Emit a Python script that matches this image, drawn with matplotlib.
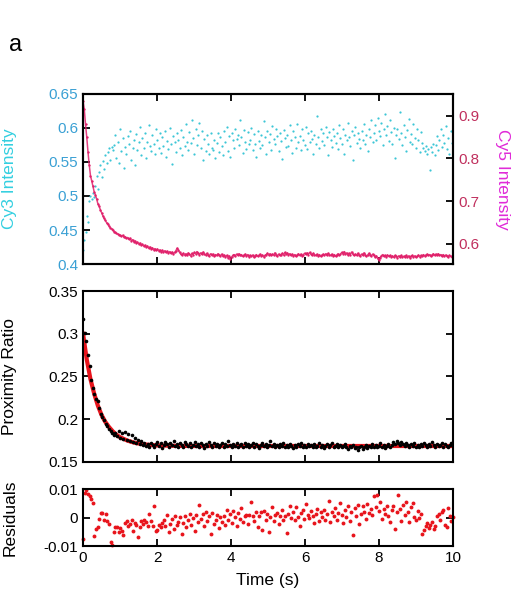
import numpy as np
import matplotlib
matplotlib.use("Agg")
import matplotlib.pyplot as plt
from matplotlib.ticker import FormatStrFormatter, FuncFormatter

plt.rcParams['font.family'] = ['Liberation Sans', 'DejaVu Sans']

# Cy3 intensity (left axis, top panel)
cy3 = [0.420, 0.435, 0.447, 0.470, 0.462, 0.492, 0.500, 0.495, 0.505, 0.498,
       0.515, 0.530, 0.510, 0.535, 0.545, 0.528, 0.552, 0.540, 0.560, 0.548,
       0.565, 0.570, 0.553, 0.572, 0.568,
       0.575, 0.590, 0.556, 0.580, 0.548, 0.598, 0.566, 0.585, 0.541, 0.572,
       0.562, 0.588, 0.577, 0.596, 0.553, 0.570, 0.583, 0.545, 0.591, 0.568,
       0.579, 0.602, 0.560, 0.585, 0.571, 0.593, 0.556, 0.580, 0.604, 0.574,
       0.566, 0.589, 0.577, 0.561, 0.598, 0.582, 0.570, 0.592, 0.563, 0.586,
       0.574, 0.595, 0.558, 0.581, 0.569, 0.600, 0.576, 0.547, 0.588, 0.579,
       0.565, 0.592, 0.583, 0.571, 0.597, 0.560, 0.586, 0.574, 0.606, 0.580,
       0.568, 0.594, 0.578, 0.612, 0.585, 0.562, 0.599, 0.575, 0.589, 0.608,
       0.571, 0.596, 0.553, 0.584, 0.566, 0.590, 0.576, 0.561, 0.593, 0.570,
       0.568, 0.583, 0.556, 0.578, 0.592, 0.565, 0.587, 0.574, 0.560, 0.595,
       0.579, 0.601, 0.566, 0.588, 0.557, 0.593, 0.582, 0.571, 0.598, 0.584,
       0.590, 0.575, 0.612, 0.586, 0.563, 0.597, 0.580, 0.569, 0.594, 0.577,
       0.583, 0.600, 0.568, 0.591, 0.576, 0.558, 0.595, 0.581, 0.570, 0.589,
       0.575, 0.610, 0.586, 0.562, 0.596, 0.579, 0.591, 0.568, 0.603, 0.584,
       0.577, 0.599, 0.588, 0.566, 0.593, 0.581, 0.554, 0.597, 0.585, 0.572,
       0.590, 0.574, 0.604, 0.582, 0.563, 0.595, 0.586, 0.571, 0.606, 0.579,
       0.588, 0.567, 0.598, 0.583, 0.575, 0.601, 0.569, 0.592, 0.580, 0.596,
       0.584, 0.562, 0.590, 0.577, 0.617, 0.586, 0.570, 0.598, 0.581, 0.593,
       0.575, 0.602, 0.587, 0.560, 0.594, 0.583, 0.572, 0.599, 0.588, 0.578,
       0.592, 0.569, 0.604, 0.585, 0.576, 0.598, 0.561, 0.590, 0.582, 0.607,
       0.587, 0.574, 0.596, 0.553, 0.589, 0.601, 0.578, 0.593, 0.584, 0.571,
       0.595, 0.583, 0.606, 0.577, 0.590, 0.566, 0.599, 0.586, 0.611, 0.580,
       0.593, 0.604, 0.582, 0.615, 0.596, 0.588, 0.607, 0.575, 0.599, 0.620,
       0.590, 0.603, 0.581, 0.612, 0.594, 0.576, 0.600, 0.556, 0.589, 0.598,
       0.584, 0.624, 0.592, 0.575, 0.605, 0.587, 0.566, 0.597, 0.613, 0.580,
       0.591, 0.576, 0.606, 0.585, 0.571, 0.598, 0.582, 0.565, 0.594, 0.578,
       0.570, 0.566, 0.574, 0.562, 0.569, 0.538, 0.572, 0.565, 0.577, 0.560,
       0.575, 0.588, 0.568, 0.582, 0.598, 0.572, 0.590, 0.578, 0.603, 0.569,
       0.585, 0.562, 0.596, 0.578, 0.574]

# Cy5 intensity (right axis, top panel)
cy5 = [0.935, 0.915, 0.880, 0.850, 0.815, 0.785, 0.760, 0.748, 0.735, 0.722,
       0.715, 0.705, 0.694, 0.688, 0.680, 0.673, 0.666, 0.660, 0.655, 0.650,
       0.646, 0.642, 0.638, 0.636, 0.632, 0.629, 0.627, 0.625, 0.623, 0.622,
       0.620, 0.618, 0.620, 0.616, 0.617, 0.614, 0.615, 0.611, 0.613, 0.608,
       0.610, 0.605, 0.607, 0.602, 0.604, 0.600, 0.602, 0.597, 0.599, 0.595,
       0.597, 0.593, 0.595, 0.590, 0.593, 0.589, 0.591, 0.586, 0.589, 0.585,
       0.588, 0.584, 0.586, 0.582, 0.585, 0.581, 0.584, 0.580, 0.583, 0.579,
       0.582, 0.578, 0.581, 0.577, 0.580, 0.584, 0.590, 0.586, 0.580, 0.576,
       0.575, 0.578, 0.574, 0.577, 0.573, 0.579, 0.576, 0.572, 0.578, 0.575,
       0.580, 0.577, 0.582, 0.578, 0.575, 0.579, 0.576, 0.581, 0.577, 0.574,
       0.578, 0.575, 0.572, 0.577, 0.574, 0.576, 0.571, 0.575, 0.573, 0.577,
       0.574, 0.572, 0.576, 0.571, 0.574, 0.570, 0.573, 0.568, 0.572, 0.565,
       0.569, 0.573, 0.575, 0.572, 0.576, 0.574, 0.577, 0.573, 0.575, 0.571,
       0.574, 0.576, 0.572, 0.575, 0.570, 0.573, 0.571, 0.574, 0.569, 0.572,
       0.575, 0.571, 0.573, 0.576, 0.572, 0.574, 0.570, 0.573, 0.575, 0.578,
       0.574, 0.577, 0.573, 0.576, 0.574, 0.579, 0.575, 0.572, 0.576, 0.573,
       0.575, 0.578, 0.574, 0.580, 0.576, 0.579, 0.575, 0.577, 0.573, 0.576,
       0.572, 0.575, 0.571, 0.574, 0.577, 0.573, 0.576, 0.572, 0.575, 0.578,
       0.576, 0.579, 0.575, 0.580, 0.577, 0.574, 0.578, 0.575, 0.573, 0.576,
       0.572, 0.575, 0.571, 0.574, 0.576, 0.573, 0.577, 0.574, 0.578, 0.575,
       0.573, 0.576, 0.572, 0.575, 0.571, 0.574, 0.577, 0.573, 0.576, 0.580,
       0.577, 0.582, 0.576, 0.579, 0.574, 0.578, 0.575, 0.581, 0.577, 0.573,
       0.576, 0.573, 0.578, 0.575, 0.572, 0.576, 0.574, 0.579, 0.575, 0.571,
       0.574, 0.578, 0.575, 0.572, 0.576, 0.573, 0.569, 0.572, 0.566, 0.562,
       0.568, 0.572, 0.575, 0.571, 0.573, 0.570, 0.574, 0.571, 0.573, 0.570,
       0.572, 0.569, 0.573, 0.571, 0.568, 0.572, 0.570, 0.573, 0.569, 0.571,
       0.570, 0.573, 0.569, 0.572, 0.568, 0.571, 0.573, 0.570, 0.572, 0.569,
       0.571, 0.574, 0.570, 0.573, 0.571, 0.575, 0.572, 0.574, 0.576, 0.573,
       0.575, 0.572, 0.574, 0.577, 0.573, 0.576, 0.574, 0.577, 0.573, 0.575,
       0.572, 0.575, 0.571, 0.574, 0.572, 0.570, 0.573, 0.571, 0.569, 0.572]

# proximity ratio (middle panel)
ratio = [0.317, 0.301, 0.291, 0.275, 0.262, 0.246, 0.237, 0.229, 0.224, 0.221,
         0.213, 0.206, 0.203, 0.199, 0.195, 0.192, 0.189, 0.186, 0.184, 0.182,
         0.184, 0.180, 0.186, 0.178, 0.184, 0.177, 0.185, 0.176, 0.183, 0.175,
         0.182, 0.173, 0.178, 0.172, 0.176, 0.171, 0.174, 0.170, 0.172, 0.169,
         0.171,
         0.168, 0.172, 0.170, 0.167, 0.171, 0.173, 0.169, 0.172, 0.166, 0.170,
         0.173, 0.171, 0.168, 0.172, 0.170, 0.174, 0.169, 0.171, 0.167, 0.172,
         0.170, 0.168, 0.173, 0.171, 0.169, 0.172, 0.167, 0.170, 0.173, 0.169,
         0.171, 0.168, 0.172, 0.170, 0.166, 0.171, 0.169, 0.173, 0.170, 0.168,
         0.172, 0.169, 0.171, 0.167, 0.170, 0.172, 0.168, 0.171, 0.169, 0.174,
         0.170, 0.168, 0.171, 0.169, 0.172, 0.167, 0.170, 0.171, 0.168, 0.172,
         0.169, 0.171, 0.167, 0.170, 0.172, 0.168, 0.171, 0.169, 0.166, 0.170,
         0.172, 0.169, 0.171, 0.168, 0.170, 0.175, 0.169, 0.171, 0.167, 0.170,
         0.168, 0.171, 0.169, 0.172, 0.167, 0.170, 0.168, 0.171, 0.169, 0.166,
         0.170, 0.168, 0.171, 0.169, 0.172, 0.168, 0.170, 0.167, 0.171, 0.169,
         0.170, 0.168, 0.171, 0.167, 0.169, 0.172, 0.168, 0.170, 0.166, 0.169,
         0.171, 0.168, 0.170, 0.172, 0.167, 0.169, 0.171, 0.168, 0.170, 0.167,
         0.169, 0.171, 0.168, 0.165, 0.169, 0.167, 0.170, 0.166, 0.168, 0.164,
         0.167, 0.169, 0.165, 0.168, 0.170, 0.166, 0.169, 0.167, 0.171, 0.168,
         0.170, 0.167, 0.169, 0.172, 0.168, 0.170, 0.166, 0.169, 0.171, 0.168,
         0.170, 0.173, 0.171, 0.174, 0.172, 0.170, 0.173, 0.171, 0.169, 0.172,
         0.170, 0.168, 0.171, 0.169, 0.172, 0.168, 0.170, 0.167, 0.171, 0.169,
         0.172, 0.170, 0.168, 0.171, 0.169, 0.173, 0.170, 0.168, 0.171, 0.169,
         0.170, 0.172, 0.168, 0.171, 0.169, 0.167, 0.170, 0.172, 0.169]

# exponential fit curve
fit_t = [0, 0.1, 0.2, 0.3, 0.4, 0.5, 0.6, 0.7, 0.8, 0.9, 1.0, 1.2, 1.4, 1.6, 1.8, 2.0, 2.5, 3.0, 10.0]
fit_y = [0.300, 0.270, 0.247, 0.230, 0.216, 0.205, 0.197, 0.191, 0.186, 0.182,
         0.179, 0.175, 0.1724, 0.1709, 0.1700, 0.1694, 0.1689, 0.1687, 0.1687]

# residuals (bottom panel)
resid = [-0.0074, 0.0086, 0.0098, 0.0082, 0.0075, 0.0066, 0.0052, -0.0064, -0.0040, -0.0034,
         -0.0004, 0.0015, 0.0017, -0.0010, 0.0012, -0.0013, -0.0021, -0.0087, -0.0095, -0.0050,
         -0.0033, -0.0035, -0.0052, -0.0038, -0.0046, -0.0062, -0.0019, -0.0012, -0.0030, -0.0024,
         -0.0010, -0.0048, -0.0018, -0.0026, -0.0067, -0.0035, -0.0011, -0.0022, -0.0008, -0.0014,
         -0.0029, 0.0014, -0.0012, -0.0030, 0.0040, -0.0048, -0.0043, -0.0026, -0.0034, -0.0018,
         -0.0009, -0.0031, 0.0008, -0.0052, -0.0022, -0.0004, -0.0040, 0.0006, -0.0027, -0.0014,
         0.0003, -0.0058, -0.0019, 0.0005, -0.0033, -0.0008, 0.0012, -0.0025, -0.0002, -0.0049,
         0.0009, -0.0016, 0.0044, -0.0006, 0.0013, -0.0030, 0.0020, -0.0011, 0.0007, -0.0058,
         0.0016, -0.0022, -0.0008, 0.0010, -0.0037, 0.0003, -0.0014, 0.0005, -0.0025, 0.0028,
         -0.0009, 0.0012, -0.0018, 0.0024, 0.0002, -0.0030, 0.0016, -0.0005, 0.0033, -0.0015,
         0.0006, 0.0008, -0.0021, 0.0010, 0.0055, 0.0004, -0.0012, 0.0021, -0.0032, 0.0007,
         0.0019, -0.0044, 0.0024, -0.0007, 0.0011, -0.0050, 0.0003, 0.0036, -0.0013, 0.0008,
         0.0015, -0.0024, 0.0004, 0.0028, -0.0010, 0.0006, -0.0056, 0.0013, 0.0040, -0.0002,
         0.0021, -0.0008, 0.0038, 0.0002, -0.0029, 0.0016, 0.0026, -0.0005, 0.0047, 0.0010,
         -0.0003, 0.0023, 0.0006, -0.0020, 0.0014, 0.0030, -0.0012, 0.0018, 0.0003, 0.0026,
         -0.0009, 0.0011, 0.0058, -0.0016, 0.0020, 0.0004, 0.0035, -0.0007, 0.0015, 0.0050,
         0.0008, -0.0019, 0.0027, 0.0002, 0.0042, -0.0011, 0.0019, -0.0063, 0.0033, 0.0006,
         0.0045, -0.0024, 0.0012, 0.0041, 0.0021, -0.0006, 0.0048, 0.0015, 0.0030, 0.0010,
         0.0076, 0.0036, 0.0080, 0.0022, 0.0054, -0.0004, 0.0029, 0.0013, 0.0042, 0.0007,
         -0.0016, 0.0025, 0.0040, -0.0042, 0.0018, 0.0078, 0.0031, -0.0012, 0.0044, 0.0009,
         0.0056, 0.0020, -0.0015, 0.0036, 0.0052, 0.0003, -0.0009, 0.0024, -0.0002, 0.0012,
         -0.0058, -0.0044, -0.0030, -0.0020, -0.0036, -0.0025, -0.0014, -0.0040, -0.0031, 0.0005,
         0.0012, -0.0010, 0.0018, 0.0025, -0.0028, -0.0032, 0.0034, 0.0006, -0.0012, 0.0001]

t_top = np.linspace(0, 10, len(cy3))
t_ratio = np.linspace(0, 10, len(ratio))
t_resid = np.linspace(0, 10, len(resid))

fig = plt.figure(figsize=(5.19, 6.01), dpi=100)
ax1 = fig.add_axes([0.160, 0.5607, 0.713, 0.283])
ax2 = fig.add_axes([0.160, 0.2313, 0.713, 0.2845])
ax3 = fig.add_axes([0.160, 0.0915, 0.713, 0.0948])

def style(ax):
    for s in ax.spines.values():
        s.set_linewidth(1.5)
    ax.tick_params(direction='in', length=5, width=1.3, labelsize=11)
    ax.set_xlim(0, 10)
    ax.set_xticks([0, 2, 4, 6, 8, 10])

# top panel
ax1.plot(t_top, cy3, '.', color='#3cc6d6', ms=3.2, mew=0)
ax1.set_ylim(0.4, 0.65)
ax1.set_yticks([0.4, 0.45, 0.5, 0.55, 0.6, 0.65])
ax1.yaxis.set_major_formatter(FormatStrFormatter('%g'))
style(ax1)
ax1.tick_params(top=True, labelbottom=False, right=False)
ax1.tick_params(axis='y', labelcolor='#3aa0d4')
ax1.set_ylabel('Cy3 Intensity', color='#33cfe0', fontsize=12.5)
ax1.yaxis.set_label_coords(-0.178, 0.5)

ax1b = ax1.twinx()
ax1b.plot(t_top, cy5, '-', color='#e0206a', lw=1.1, alpha=0.85)
ax1b.plot(t_top, cy5, '.', color='#e0206a', ms=3.4, mew=0)
ax1b.set_ylim(0.553, 0.951)
ax1b.set_yticks([0.6, 0.7, 0.8, 0.9])
ax1b.yaxis.set_major_formatter(FormatStrFormatter('%g'))
ax1b.tick_params(direction='in', length=5, width=1.3, labelsize=11, labelcolor='#c0305e')
for s in ax1b.spines.values():
    s.set_linewidth(1.5)
ax1b.set_ylabel('Cy5 Intensity', color='#e02ad8', fontsize=12.5, rotation=270)
ax1b.yaxis.set_label_coords(1.155, 0.5)

# middle panel
ax2.plot(fit_t, fit_y, '-', color='#e8141c', lw=3, zorder=2)
ax2.plot(t_ratio, ratio, 'o', color='black', ms=2.6, mew=0, zorder=3)
ax2.set_ylim(0.15, 0.35)
ax2.set_yticks([0.15, 0.2, 0.25, 0.3, 0.35])
ax2.yaxis.set_major_formatter(FormatStrFormatter('%g'))
style(ax2)
ax2.tick_params(top=True, right=True, labelbottom=False)
ax2.set_ylabel('Proximity Ratio', fontsize=12.5)
ax2.yaxis.set_label_coords(-0.178, 0.5)

# bottom panel
ax3.plot(t_resid, resid, 'o', color='#e8141c', ms=2.8, mew=0, clip_on=False)
ax3.set_ylim(-0.01, 0.01)
ax3.set_yticks([-0.01, 0, 0.01])
ax3.yaxis.set_major_formatter(FuncFormatter(lambda v, p: '0' if abs(v) < 1e-9 else '%g' % v))
style(ax3)
ax3.tick_params(top=True, right=True)
ax3.set_ylabel('Residuals', fontsize=12.5)
ax3.yaxis.set_label_coords(-0.178, 0.5)
ax3.set_xlabel('Time (s)', fontsize=12.5, labelpad=6)

fig.text(0.017, 0.915, 'a', fontsize=17)

fig.savefig('out.png', dpi=100)
